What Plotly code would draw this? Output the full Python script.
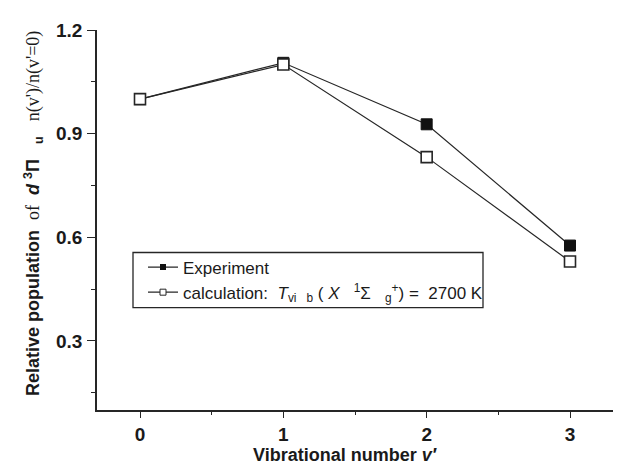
import plotly.graph_objects as go

# Data
v_levels = [0, 1, 2, 3]
experiment = [1.0, 1.105, 0.927, 0.576]
calculation = [1.0, 1.100, 0.832, 0.530]

y_ticks = [0.3, 0.6, 0.9, 1.2]
y_minor = [0.15, 0.45, 0.75, 1.05]
x_ticks = [0, 1, 2, 3]
x_minor = [0.5, 1.5, 2.5]

exp_name = "Experiment"
calc_name = ("calculation:  <i>T</i><sub>vi   b</sub> ( <i>X</i>   <sup>1</sup>Σ   "
             "<sub>g</sub><sup>+</sup>) =  2700 K")

LINE = "#262626"
SANS = "Liberation Sans, Arial, sans-serif"
SERIF = "Liberation Serif, Times New Roman, serif"

fig = go.Figure()

fig.add_trace(go.Scatter(
    x=v_levels, y=experiment, mode="lines+markers", showlegend=False,
    line=dict(color=LINE, width=1.2),
    marker=dict(symbol="square", size=11, color="#111111",
                line=dict(color="#111111", width=1)),
))
fig.add_trace(go.Scatter(
    x=v_levels, y=calculation, mode="lines+markers", showlegend=False,
    line=dict(color=LINE, width=1.2),
    marker=dict(symbol="square", size=11, color="white",
                line=dict(color=LINE, width=1.6)),
))

# legend entries (small symbols, as in the reference legend)
fig.add_trace(go.Scatter(
    x=[None], y=[None], mode="lines+markers", name=exp_name,
    line=dict(color=LINE, width=1.2),
    marker=dict(symbol="square", size=6, color="#111111"),
))
fig.add_trace(go.Scatter(
    x=[None], y=[None], mode="lines+markers", name=calc_name,
    line=dict(color=LINE, width=1.2),
    marker=dict(symbol="square", size=6, color="white", line=dict(color=LINE, width=1)),
))

axis_common = dict(
    showline=True, linecolor=LINE, linewidth=1.5, mirror=False,
    showgrid=False, zeroline=False,
    ticks="outside", tickwidth=1.3, tickcolor=LINE,
    tickfont=dict(family=SANS, size=19, color="#1a1a1a", weight="bold"),
)

fig.update_xaxes(
    range=[-0.3, 3.3], tickvals=x_ticks, ticktext=[str(v) for v in x_ticks],
    ticklen=6,
    minor=dict(tickvals=x_minor, ticks="outside", ticklen=3, tickcolor=LINE, tickwidth=1),
    **axis_common,
)
fig.update_yaxes(
    range=[0.1, 1.2], tickvals=y_ticks, ticktext=[f"{v:.1f}" for v in y_ticks],
    ticklen=8,
    minor=dict(tickvals=y_minor, ticks="outside", ticklen=4, tickcolor=LINE, tickwidth=1),
    ticklabelstandoff=1,
    **axis_common,
)

serif = f"font-family:{SERIF};font-weight:normal;font-size:18px"
ytitle = (
    "<b>Relative population</b>  "
    f"<span style='{serif}'>of</span>  "
    "<b><i>d</i> <sup>3</sup>Π</b>   <b><sub>u</sub></b>   "
    f"<span style='{serif}'>n(v')/n(v'=0)</span>"
)

# page body has an 8px margin: figure coords = window coords - 8
O = 8
PL, PT, PR, PB = 97 - O, 24 - O, 613 - O, 410 - O
W, H = 626 - O, 470 - O
PW, PH = PR - PL, PB - PT


def px(xw):
    return (xw - O - PL) / PW


def py(yw):
    return (PB - (yw - O)) / PH


fig.update_layout(
    width=W, height=H, autosize=False,
    margin=dict(l=PL, r=W - PR, t=PT, b=H - PB),
    paper_bgcolor="white", plot_bgcolor="white",
    font=dict(family=SANS, color="#1a1a1a"),
    legend=dict(
        x=px(143), y=py(247), xanchor="left", yanchor="top",
        bgcolor="rgba(0,0,0,0)", borderwidth=0,
        font=dict(family=SANS, size=17, color="#1a1a1a"),
        tracegroupgap=0,
    ),
    shapes=[dict(
        type="rect", xref="paper", yref="paper",
        x0=px(133), x1=px(483), y0=py(306), y1=py(250),
        line=dict(color=LINE, width=1.3), fillcolor="rgba(0,0,0,0)",
    )],
    annotations=[
        dict(
            text=ytitle, xref="paper", yref="paper",
            x=px(33), y=py(211),
            xanchor="center", yanchor="middle", textangle=-90, showarrow=False,
            font=dict(family=SANS, size=18, color="#1a1a1a"),
        ),
        dict(
            text="<b>Vibrational number <i>v′</i></b>", xref="paper", yref="paper",
            x=px(345), y=py(456),
            xanchor="center", yanchor="middle", showarrow=False,
            font=dict(family=SANS, size=18, color="#1a1a1a"),
        ),
    ],
)

fig.write_html("out.html")
